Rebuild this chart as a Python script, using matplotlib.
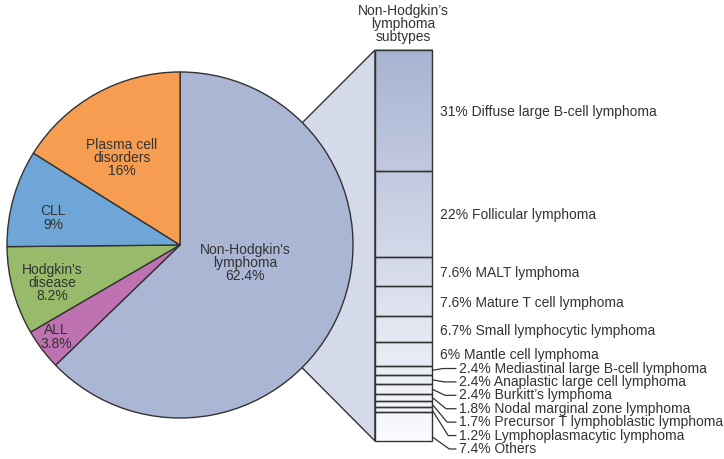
import matplotlib.pyplot as plt
import numpy as np
from matplotlib.colors import LinearSegmentedColormap
from matplotlib.patches import Polygon

plt.rcParams["font.family"] = ["Liberation Sans", "DejaVu Sans"]

# --- Data ---
groups = ["Non-Hodgkin's\nlymphoma", "ALL", "Hodgkin's\ndisease", "CLL", "Plasma cell\ndisorders"]
group_pct = [62.4, 3.8, 8.2, 9.0, 16.0]
group_colors = ["#abb6d4", "#bf72b1", "#97bb6a", "#6ea6d7", "#f79d52"]

subtypes = ["Diffuse large B-cell lymphoma", "Follicular lymphoma", "MALT lymphoma",
            "Mature T cell lymphoma", "Small lymphocytic lymphoma", "Mantle cell lymphoma",
            "Mediastinal large B-cell lymphoma", "Anaplastic large cell lymphoma",
            "Burkitt\u2019s lymphoma", "Nodal marginal zone lymphoma",
            "Precursor T lymphoblastic lymphoma", "Lymphoplasmacytic lymphoma", "Others"]
subtype_pct = [31, 22, 7.6, 7.6, 6.7, 6, 2.4, 2.4, 2.4, 1.8, 1.7, 1.2, 7.4]
subtype_txt = ["31%", "22%", "7.6%", "7.6%", "6.7%", "6%", "2.4%", "2.4%", "2.4%",
               "1.8%", "1.7%", "1.2%", "7.4%"]

edge = "#333333"
txt = "#333333"

# --- Figure: one axes over the whole canvas, pie of radius 1 at the origin ---
fig = plt.figure(figsize=(7.24, 4.59), dpi=100)
ax = fig.add_axes([0, 0, 1, 1])

wedges, _ = ax.pie(group_pct, colors=group_colors, startangle=90, counterclock=False,
                   radius=1, wedgeprops=dict(edgecolor=edge, linewidth=1.0))
for w in wedges:
    w.set_zorder(3)

# pie labels
label_pos = [(0.376, -0.104), (-0.717, -0.532), (-0.740, -0.220), (-0.734, 0.156), (-0.335, 0.503)]
for name, pct, (lx, ly) in zip(groups, group_pct, label_pos):
    ax.text(lx, ly, f"{name}\n{pct:g}%", ha="center", va="center", fontsize=10,
            color=txt, linespacing=0.93, zorder=5)

# --- Stacked bar of subtypes ---
bar_left, bar_right = 1.127, 1.457
bar_top, bar_bottom = 1.127, -1.133
bar_w = bar_right - bar_left
bar_x = (bar_left + bar_right) / 2
unit = (bar_top - bar_bottom) / sum(subtype_pct)

# connector wedge between pie and bar (radial lines at +/-45 deg)
conn = Polygon([(0, 0), (bar_left, bar_top), (bar_left, bar_bottom)], closed=True,
               facecolor="#d4dae9", edgecolor=edge, linewidth=1.0, zorder=1)
ax.add_patch(conn)

# vertical gradient fill
cmap = LinearSegmentedColormap.from_list("nhl", ["#a8b3d2", "#fafbfd"])
grad = np.linspace(0, 1, 256).reshape(-1, 1)
ax.imshow(grad, cmap=cmap, extent=[bar_left, bar_right, bar_bottom, bar_top],
          aspect="auto", zorder=2, interpolation="bicubic")

heights = np.array(subtype_pct) * unit
bottoms = bar_top - np.cumsum(heights)
ax.bar([bar_x] * len(heights), heights, bottom=bottoms, width=bar_w,
       facecolor="none", edgecolor=edge, linewidth=1.0, zorder=4)

ax.text(bar_x, 1.278, "Non-Hodgkin\u2019s\nlymphoma\nsubtypes", ha="center", va="center",
        fontsize=10, color=txt, linespacing=0.93)

# labels: big segments beside their middle, small ones with leader lines
mids = bottoms + heights / 2
n_big = 6
for i in range(n_big):
    ax.text(1.503, mids[i], f"{subtype_txt[i]} {subtypes[i]}", ha="left",
            va="center_baseline", fontsize=10, color=txt)

y0, step = -0.714, 0.0775
for k, i in enumerate(range(n_big, len(subtypes))):
    ly = y0 - k * step
    ay = mids[i] if i < len(subtypes) - 1 else bottoms[i] + heights[i] * 0.15
    ax.plot([bar_right, 1.520 + 0.006 * k, 1.598], [ay, ly, ly], color=edge, lw=0.9,
            solid_capstyle="butt", zorder=4)
    ax.text(1.613, ly, f"{subtype_txt[i]} {subtypes[i]}", ha="left", va="center",
            fontsize=10, color=txt)

ax.set_xlim(-1.0405, 3.1445)
ax.set_ylim(-1.237, 1.416)
ax.set_aspect("auto")
ax.axis("off")

fig.savefig("out.png", dpi=100)
